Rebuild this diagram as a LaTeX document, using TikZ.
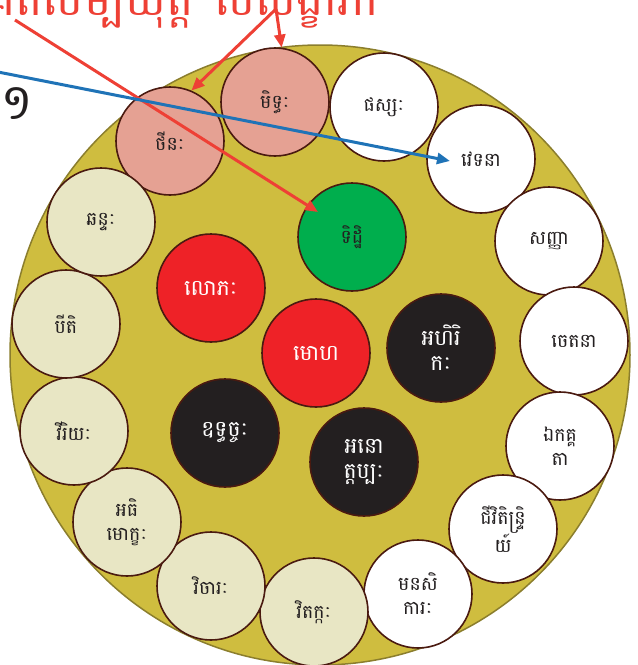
\documentclass[tikz,border=0pt]{standalone}
\usepackage{fontspec}
\newfontfamily\km[Script=Khmer]{Battambang}
\usetikzlibrary{arrows.meta}
\definecolor{bgolive}{HTML}{CFBD3F}
\definecolor{oliveedge}{HTML}{8B7E2D}
\definecolor{rim}{HTML}{4A1A10}
\definecolor{salmon}{HTML}{E5A193}
\definecolor{cream}{HTML}{E8E6C4}
\definecolor{grn}{HTML}{00AE4D}
\definecolor{rd}{HTML}{EE2227}
\definecolor{dk}{HTML}{231F20}
\definecolor{txt}{HTML}{231F20}
\definecolor{titlered}{HTML}{EE4035}
\definecolor{arrblue}{HTML}{1F73B7}
\tikzset{
  ball/.style={circle, draw=rim, line width=1.6pt, minimum size=108pt, inner sep=0pt,
    align=center, font=\km\fontsize{19}{24}\selectfont, text=txt},
  wball/.style={ball, fill=white},
  sball/.style={ball, fill=salmon},
  cball/.style={ball, fill=cream},
  gball/.style={ball, fill=grn},
  rball/.style={ball, fill=rd, text=white, font=\km\fontsize{22}{25}\selectfont},
  kball/.style={ball, fill=dk, text=white, font=\km\fontsize{22}{25}\selectfont},
  redarrow/.style={draw=titlered, line width=3pt, -{Triangle[length=13pt,width=11pt]}},
  bluearrow/.style={draw=arrblue, line width=3pt, -{Triangle[length=13pt,width=11pt]}},
}
\begin{document}
\begin{tikzpicture}[x=1pt,y=-1pt]
\useasboundingbox (0,0) rectangle (638,665);
\fill[white] (0,0) rectangle (638,665);
\node[circle, draw=oliveedge, fill=bgolive, line width=1.5pt, minimum size=620pt, inner sep=0pt] (disc) at (320,355) {};
% outer ring
\node[sball] (thina) at (170,141) {ថីនៈ};
\node[sball] (middha) at (275,102) {មិទ្ធៈ};
\node[wball] (phassa) at (384,107) {ផស្សៈ};
\node[wball] (vedana) at (481,159) {វេទនា};
\node[wball] (sanna) at (549,241) {សញ្ញា};
\node[wball] (cetana) at (574,341) {ចេតនា};
\node[wball] (ekagga) at (560,446) {ឯកគ្គ\\តា};
\node[wball] (jivit) at (503,529) {ជីវិតិន្ទ្រិ\\យ៍};
\node[wball] (manasi) at (418,594) {មនសិ\\ការៈ};
\node[cball] (vitakka) at (314,612) {វិតក្កៈ};
\node[cball] (vicara) at (211,586) {វិចារៈ};
\node[cball] (adhimok) at (127,522) {អធិ\\មោក្ខៈ};
\node[cball] (viriya) at (74,431) {វីរិយៈ};
\node[cball] (piti) at (66,324) {បីតិ};
\node[cball] (chanda) at (101,222) {ឆន្ទៈ};
% inner
\node[rball] (lobha) at (211,288) {លោភៈ};
\node[gball] (ditthi) at (352,237) {ទិដ្ឋិ};
\node[rball] (moha) at (316,353) {មោហ};
\node[kball] (ahiri) at (441,348) {អហិរិ\\កៈ};
\node[kball] (uddh) at (225,433) {ឧទ្ធច្ចៈ};
\node[kball] (anott) at (364,462) {អនោ\\ត្តប្បៈ};
% title and numeral
\node[anchor=base east, inner sep=0pt, text=titlered, font=\km\fontsize{46}{50}\selectfont] (title1) at (194,15) {ទិដ្ឋិគតសម្បយុត្ត};
\node[anchor=base west, inner sep=0pt, text=titlered, font=\km\fontsize{46}{50}\selectfont] (title2) at (214,15) {សសង្ខារិក};
\node[inner sep=0pt, text=txt, font=\km\fontsize{50}{54}\selectfont] (num) at (17,104) {១};
% arrows
\coordinate (r1s) at (15,20);
\coordinate (r2s) at (276,9);
\coordinate (bs) at (-2,72);
\coordinate (btip) at (450,161);
\coordinate (gtip) at (318,212);
\draw[redarrow] (r1s) -- (gtip);
\draw[redarrow] (r2s) -- (thina.67);
\draw[redarrow] (r2s) -- (middha.83);
\draw[bluearrow] (bs) -- (btip);
\end{tikzpicture}
\end{document}
